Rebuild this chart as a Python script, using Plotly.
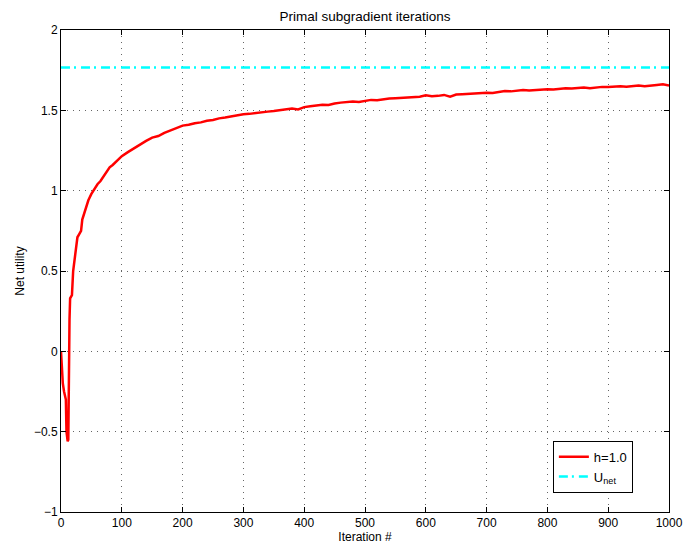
import plotly.graph_objects as go

iterations = [0, 3, 5, 8, 9, 11, 12, 13, 14, 15, 18, 20, 22, 24, 27, 30, 33, 35, 39, 42, 45,
              50, 55, 60, 65, 70, 75, 80, 85, 90, 95, 100, 110, 120, 130, 140, 150, 160, 170,
              180, 190, 200, 210, 220, 230, 240, 250, 260, 270, 280, 290, 300, 310, 320, 330,
              340, 350, 360, 370, 380, 390, 400, 410, 420, 430, 440, 450, 460, 470, 480, 490,
              500, 510, 520, 530, 540, 550, 560, 570, 580, 590, 600, 610, 620, 630, 640, 650,
              660, 670, 680, 690, 700, 710, 720, 730, 740, 750, 760, 770, 780, 790, 800, 810,
              820, 830, 840, 850, 860, 870, 880, 890, 900, 910, 920, 930, 940, 950, 960, 970,
              980, 990, 1000]
net_utility = [0.0, -0.2, -0.25, -0.3, -0.5, -0.56, -0.55, 0.05, 0.2, 0.33, 0.35, 0.5, 0.56,
               0.64, 0.71, 0.73, 0.75, 0.82, 0.87, 0.9, 0.94,
               0.98, 1.01, 1.04, 1.06, 1.09, 1.12, 1.145, 1.16, 1.18, 1.2, 1.215, 1.24, 1.265,
               1.29, 1.31, 1.33, 1.34, 1.36, 1.375, 1.39, 1.405, 1.41, 1.42, 1.425, 1.435, 1.44,
               1.45, 1.455, 1.462, 1.468, 1.475, 1.478, 1.484, 1.487, 1.492, 1.496, 1.5, 1.505,
               1.512, 1.506, 1.52, 1.525, 1.53, 1.535, 1.533, 1.543, 1.548, 1.552, 1.555, 1.552,
               1.56, 1.565, 1.563, 1.57, 1.573, 1.575, 1.578, 1.58, 1.582, 1.585, 1.594, 1.588,
               1.59, 1.596, 1.585, 1.598, 1.6, 1.603, 1.605, 1.607, 1.61, 1.608, 1.614, 1.62,
               1.618, 1.622, 1.626, 1.624, 1.628, 1.63, 1.632, 1.629, 1.634, 1.637, 1.636, 1.64,
               1.642, 1.638, 1.644, 1.646, 1.645, 1.648, 1.65, 1.647, 1.652, 1.655, 1.65, 1.656,
               1.658, 1.662, 1.655]
u_net_value = 1.766
u_net_x = [0, 1000]

x_ticks = [0, 100, 200, 300, 400, 500, 600, 700, 800, 900, 1000]
y_ticks = [-1, -0.5, 0, 0.5, 1, 1.5, 2]
y_tick_labels = ["\u22121", "\u22120.5", "0", "0.5", "1", "1.5", "2"]

fig = go.Figure()
fig.add_trace(go.Scatter(x=iterations, y=net_utility, mode="lines",
                         line=dict(color="#ff0000", width=2.5),
                         name="h=1.0"))
fig.add_trace(go.Scatter(x=u_net_x, y=[u_net_value] * len(u_net_x), mode="lines",
                         line=dict(color="#00ffff", width=2.5, dash="9px,4px,2px,5px"),
                         name="U<sub>net</sub>"))

axis_common = dict(showline=True, linecolor="black", linewidth=1, mirror="ticks",
                   ticks="inside", ticklen=5, tickcolor="black", automargin=False,
                   showgrid=True, gridcolor="#666666", gridwidth=1, griddash="1px,5px",
                   zeroline=False, tickfont=dict(size=12, color="black"))

fig.update_xaxes(range=[0, 1000], tickvals=x_ticks,
                 title=dict(text="Iteration #", font=dict(size=12, color="black"), standoff=2),
                 **axis_common)
fig.update_yaxes(range=[-1, 2], tickvals=y_ticks, ticktext=y_tick_labels,
                 title=dict(text="Net utility", font=dict(size=12, color="black"), standoff=6),
                 **axis_common)

# page body has an 8px margin, so the figure is sized/offset to land the plot box
# at x 61..669, y 30..512 in the 699x546 window
fig.update_layout(
    width=691, height=538,
    margin=dict(l=53, r=30, t=22, b=34),
    paper_bgcolor="white", plot_bgcolor="white",
    font=dict(family="Liberation Sans, Arial, sans-serif", size=12, color="black"),
    title=dict(text="Primal subgradient iterations", x=0.5, xref="paper", xanchor="center",
               y=1 - 8 / 538, yanchor="middle",
               font=dict(size=13.5, color="black")),
    showlegend=True,
    legend=dict(x=0.809, y=0.04, xanchor="left", yanchor="bottom",
                bordercolor="black", borderwidth=1, bgcolor="white", itemwidth=30,
                font=dict(size=13, color="black"), tracegroupgap=0),
)

fig.write_html("out.html")
